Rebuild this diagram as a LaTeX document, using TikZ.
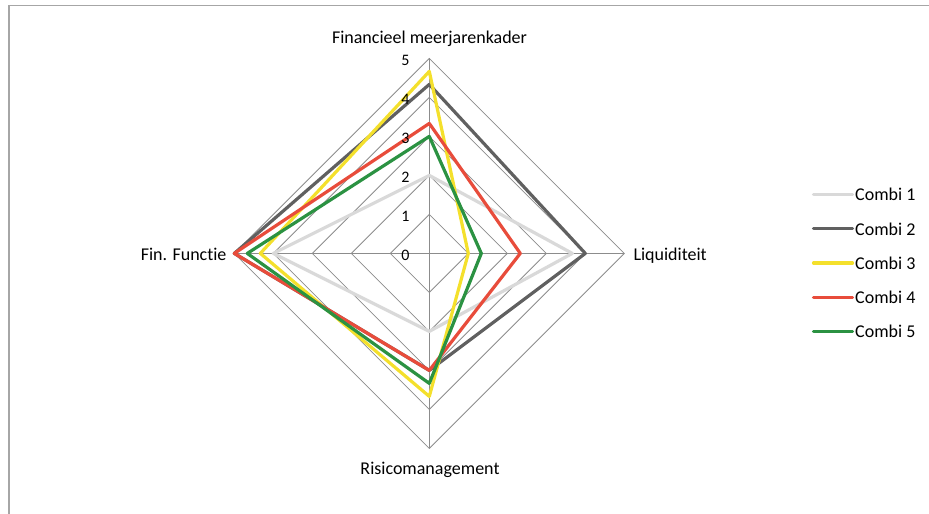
\documentclass[tikz,border=0pt]{standalone}
\usepackage{fontspec}
\setmainfont{Carlito}[Ligatures={NoCommon,NoRare,NoContextual}]
\definecolor{gridgray}{HTML}{8C8C8C}
\definecolor{framegray}{HTML}{A6A6A6}
\definecolor{cone}{HTML}{D9D9D9}
\definecolor{ctwo}{HTML}{606060}
\definecolor{cthree}{HTML}{F4E02C}
\definecolor{cfour}{HTML}{E84C3B}
\definecolor{cfive}{HTML}{2B9242}
\begin{document}
\begin{tikzpicture}[x=1pt,y=1pt,
  gridline/.style={draw=gridgray, line width=0.8pt},
  series/.style={line width=3.2pt, line join=round},
  catlabel/.style={font=\fontsize{18}{20}\selectfont, inner sep=0pt, text=black},
  ticklabel/.style={font=\fontsize{16}{18}\selectfont, inner sep=0pt, anchor=base},
  legline/.style={line width=3.2pt, line cap=round},
  legtext/.style={font=\fontsize{18}{20}\selectfont, inner sep=0pt, anchor=base west}]
\useasboundingbox (0,0) rectangle (929,514);
% chart frame
\draw[framegray, line width=1.2pt] (9,-2) -- (9,508.5) -- (931,508.5);
% radar
\begin{scope}[shift={(429.3,260.6)}, x=39pt, y=39pt]
  \foreach \i in {1,...,5}
    \draw[gridline] (0,\i) -- (\i,0) -- (0,-\i) -- (-\i,0) -- cycle;
  \draw[gridline] (0,-5) -- (0,5);
  \draw[gridline] (-5,0) -- (5,0);
  \draw[series, cone]   (0,2)     -- (3.667,0) -- (0,-2)     -- (-4,0)     -- cycle;
  \draw[series, ctwo]   (0,4.333) -- (4,0)     -- (0,-3)     -- (-5,0)     -- cycle;
  \draw[series, cthree] (0,4.667) -- (1,0)     -- (0,-3.667) -- (-4.333,0) -- cycle;
  \draw[series, cfour]  (0,3.333) -- (2.333,0) -- (0,-3)     -- (-5,0)     -- cycle;
  \draw[series, cfive]  (0,3)     -- (1.333,0) -- (0,-3.333) -- (-4.667,0) -- cycle;
\end{scope}
% tick labels
\foreach \v in {0,...,5}
  \node[ticklabel] (t\v) at (405.5, 253.2+39*\v) {\v};
% category labels
\node[catlabel, anchor=base] (top) at (429.5,470.3) {Financieel meerjarenkader};
\node[catlabel, anchor=base east] (left) at (226.7,253.3) {Fin. Functie};
\node[catlabel, anchor=base west] (right) at (633.3,253.3) {Liquiditeit};
\node[catlabel, anchor=base] (bottom) at (430,39.5) {Risicomanagement};
% legend
\foreach \k/\c in {1/cone,2/ctwo,3/cthree,4/cfour,5/cfive} {
  \coordinate (la\k) at (813.5, 319.5-34.3*\k+34.3);
  \coordinate (lb\k) at (852.5, 319.5-34.3*\k+34.3);
  \draw[legline, \c] (la\k) -- (lb\k);
  \node[legtext] (lt\k) at (855, 313.2-34.3*\k+34.3) {Combi \k};
}
\end{tikzpicture}
\end{document}
